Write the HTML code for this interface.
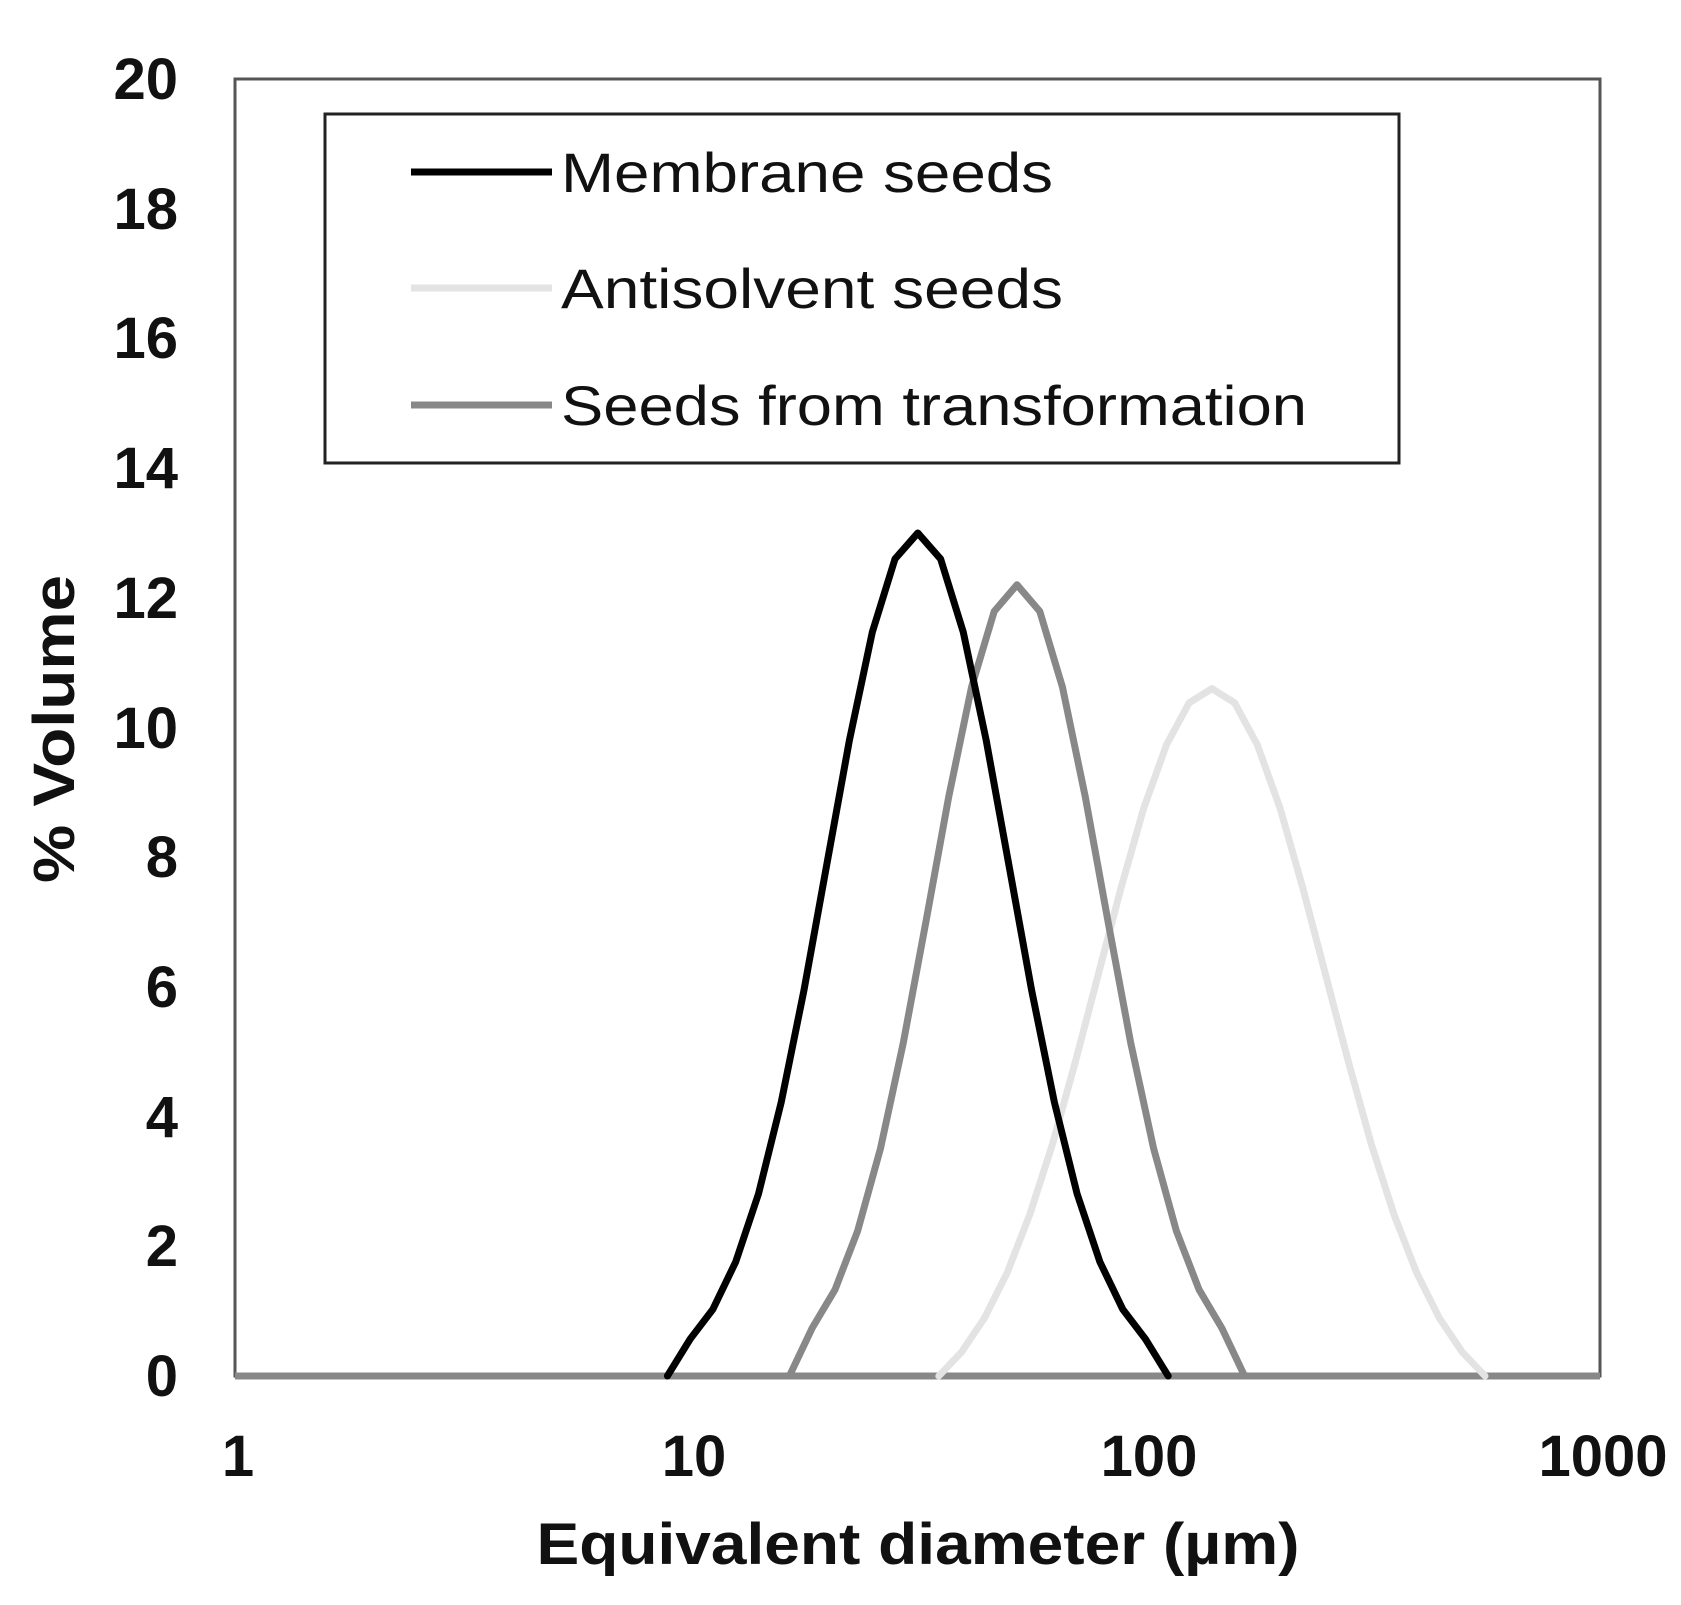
<!DOCTYPE html>
<html><head><style>html,body{margin:0;padding:0;background:#fff}svg{display:block}</style></head>
<body>
<svg xmlns="http://www.w3.org/2000/svg" width="1681" height="1605" viewBox="0 0 1681 1605">
<rect width="1681" height="1605" fill="#fff"/>
<rect x="235" y="79" width="1365" height="1297" fill="none" stroke="#555" stroke-width="3"/>
<line x1="235" y1="1376" x2="1600" y2="1376" stroke="#888" stroke-width="7"/>
<g fill="none" stroke-linejoin="round" stroke-linecap="round" stroke-width="7">
<polyline stroke="#e3e3e3" points="938.8,1376 961.6,1352.0 984.3,1318.3 1007.1,1272.9 1029.8,1214.5 1052.6,1143.8 1075.3,1062.1 1098.1,975.2 1120.9,888.3 1143.6,808.6 1166.4,745.0 1189.1,702.9 1211.9,688.6 1234.7,702.9 1257.4,745.0 1280.2,808.6 1302.9,888.3 1325.7,975.2 1348.5,1062.1 1371.2,1143.8 1394.0,1214.5 1416.7,1272.9 1439.5,1318.3 1462.2,1352.0 1485.0,1376"/>
<polyline stroke="#888" points="789.4,1376 812.2,1328.0 835.0,1289.7 857.7,1230.7 880.5,1148.4 903.2,1043.3 926.0,921.4 948.7,796.9 971.5,687.3 994.2,611.4 1017.0,584.8 1039.8,611.4 1062.5,687.3 1085.3,796.9 1108.0,921.4 1130.8,1043.3 1153.6,1148.4 1176.3,1230.7 1199.1,1289.7 1221.8,1328.0 1244.6,1376"/>
<polyline stroke="#000" points="667.4,1376 690.2,1339.0 712.9,1309.2 735.7,1261.9 758.5,1193.8 781.2,1102.3 804.0,990.1 826.7,865.0 849.5,739.8 872.3,632.2 895.0,558.9 917.8,533.0 940.6,558.9 963.3,632.2 986.1,739.8 1008.9,865.0 1031.6,990.1 1054.4,1102.3 1077.1,1193.8 1099.9,1261.9 1122.7,1309.2 1145.4,1339.0 1168.2,1376"/>
</g>
<rect x="325" y="114" width="1074" height="349" fill="#fff" stroke="#222" stroke-width="3"/>
<line x1="411" y1="172" x2="552" y2="172" stroke="#000" stroke-width="7"/>
<line x1="411" y1="288" x2="552" y2="288" stroke="#e3e3e3" stroke-width="7"/>
<line x1="411" y1="405" x2="552" y2="405" stroke="#888" stroke-width="7"/>
<g font-family="Liberation Sans, sans-serif" font-size="56" fill="#111">
<text x="561" y="192" textLength="492" lengthAdjust="spacingAndGlyphs">Membrane seeds</text>
<text x="561" y="308" textLength="502" lengthAdjust="spacingAndGlyphs">Antisolvent seeds</text>
<text x="561" y="425" textLength="746" lengthAdjust="spacingAndGlyphs">Seeds from transformation</text>
</g>
<g font-family="Liberation Sans, sans-serif" font-size="58" font-weight="bold" fill="#111" text-anchor="end">
<text x="178" y="99">20</text><text x="178" y="229">18</text><text x="178" y="358">16</text>
<text x="178" y="488">14</text><text x="178" y="618">12</text><text x="178" y="748">10</text>
<text x="178" y="877">8</text><text x="178" y="1007">6</text><text x="178" y="1137">4</text>
<text x="178" y="1266">2</text><text x="178" y="1396">0</text>
</g>
<g font-family="Liberation Sans, sans-serif" font-size="58" font-weight="bold" fill="#111" text-anchor="middle">
<text x="238" y="1476">1</text><text x="694" y="1476">10</text><text x="1149" y="1476">100</text><text x="1603" y="1476">1000</text>
<text x="918" y="1564" textLength="763" lengthAdjust="spacingAndGlyphs">Equivalent diameter (µm)</text>
<text transform="translate(74,729) rotate(-90)" textLength="308" lengthAdjust="spacingAndGlyphs">% Volume</text>
</g>
</svg>
</body></html>
